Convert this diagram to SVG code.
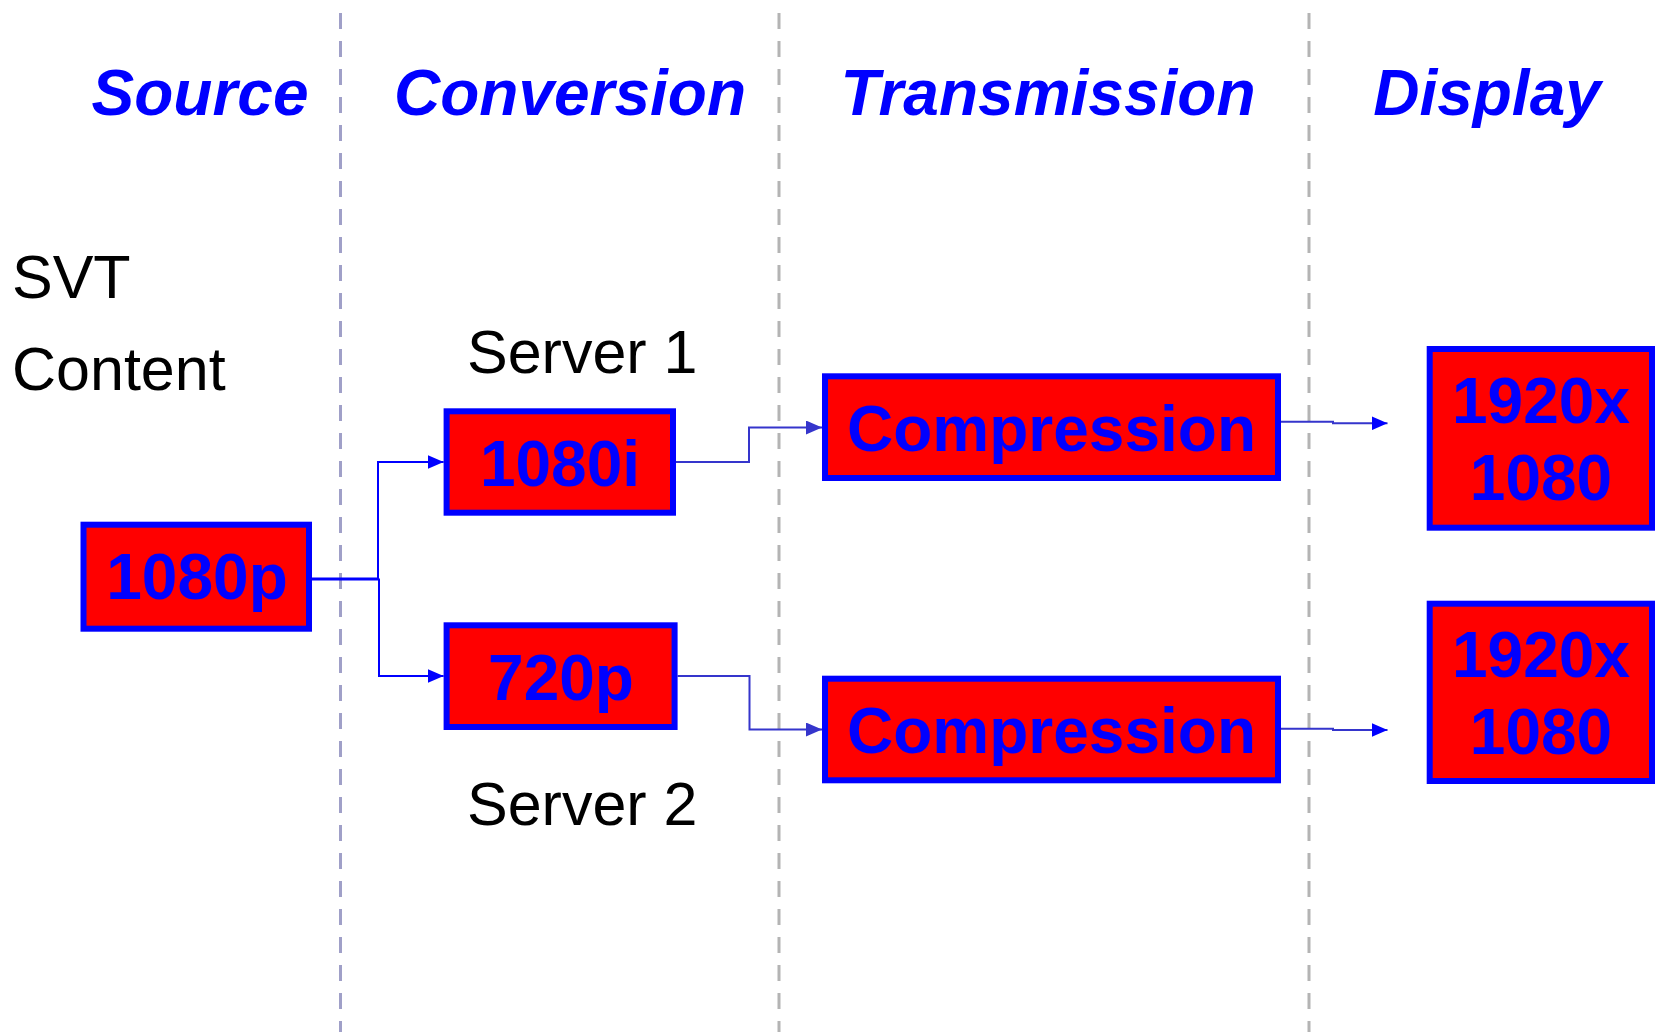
<svg xmlns="http://www.w3.org/2000/svg" width="1658" height="1032" viewBox="0 0 1658 1032">
  <style>
    .hdr { font-family: "Liberation Sans", Arial, sans-serif; font-weight: bold; font-style: italic; font-size: 64px; fill: #0000ff; text-anchor: middle; }
    .lbl { font-family: "Liberation Sans", Arial, sans-serif; font-size: 61px; fill: #000000; }
    .box { fill: #ff0000; stroke: #0000ff; stroke-width: 6; }
    .btxt { font-family: "Liberation Sans", Arial, sans-serif; font-weight: bold; font-size: 64px; fill: #0000ff; text-anchor: middle; }
    .sep { stroke-width: 3; stroke-dasharray: 16 12; fill: none; }
    .link { fill: none; stroke: #0000ff; stroke-width: 2; }
    .link2 { fill: none; stroke: #3535cc; stroke-width: 2; }
  </style>
  <defs>
    <marker id="arr" markerUnits="userSpaceOnUse" markerWidth="16" markerHeight="14" refX="16" refY="7" orient="auto">
      <path d="M0,0 L16,7 L0,14 z" fill="#0000ff"/>
    </marker>
    <marker id="arr2" markerUnits="userSpaceOnUse" markerWidth="16" markerHeight="14" refX="16" refY="7" orient="auto">
      <path d="M0,0 L16,7 L0,14 z" fill="#3535cc"/>
    </marker>
  </defs>
  <rect width="1658" height="1032" fill="#ffffff"/>

  <!-- column separators -->
  <g id="separators">
    <line class="sep" x1="340.5" y1="13" x2="340.5" y2="1032" stroke="#a0a0c8"/>
    <line class="sep" x1="779" y1="13" x2="779" y2="1032" stroke="#b4b4b4"/>
    <line class="sep" x1="1309" y1="13" x2="1309" y2="1032" stroke="#b4b4b4"/>
  </g>

  <!-- column headings -->
  <g id="headings">
    <text class="hdr" x="200" y="115">Source</text>
    <text class="hdr" x="570" y="115">Conversion</text>
    <text class="hdr" x="1048" y="115">Transmission</text>
    <text class="hdr" x="1487" y="115">Display</text>
  </g>

  <!-- plain labels -->
  <g id="labels">
    <text class="lbl" x="12" y="298">SVT</text>
    <text class="lbl" x="12" y="390">Content</text>
    <text class="lbl" x="467" y="373">Server 1</text>
    <text class="lbl" x="467" y="825">Server 2</text>
  </g>

  <!-- connectors -->
  <g id="connectors">
    <path class="link" d="M312,578.5 H378 V462 H443.6" marker-end="url(#arr)"/>
    <path class="link" d="M312,579.5 H379 V676 H443.6" marker-end="url(#arr)"/>
    <path class="link2" d="M676,462 H749 V427.5 H822" marker-end="url(#arr2)"/>
    <path class="link2" d="M677.6,676 H749.5 V729.5 H822" marker-end="url(#arr2)"/>
    <path class="link2" d="M1281,421.7 H1333 V423.3 H1387.5" marker-end="url(#arr)"/>
    <path class="link2" d="M1281,728.7 H1333 V730 H1387.5" marker-end="url(#arr)"/>
  </g>

  <!-- nodes -->
  <g id="n-1080p">
    <rect class="box" x="83.5" y="524.7" width="225.5" height="104"/>
    <text class="btxt" x="197" y="599">1080p</text>
  </g>
  <g id="n-1080i">
    <rect class="box" x="446.6" y="411.3" width="226.4" height="101.4"/>
    <text class="btxt" x="560" y="486">1080i</text>
  </g>
  <g id="n-720p">
    <rect class="box" x="446.6" y="625.3" width="228" height="101.7"/>
    <text class="btxt" x="561" y="700">720p</text>
  </g>
  <g id="n-comp1">
    <rect class="box" x="825" y="376.3" width="453" height="101.7"/>
    <text class="btxt" x="1051.5" y="450.7">Compression</text>
  </g>
  <g id="n-comp2">
    <rect class="box" x="825" y="678.7" width="453" height="101.6"/>
    <text class="btxt" x="1051.5" y="753.3">Compression</text>
  </g>
  <g id="n-disp1">
    <rect class="box" x="1429.7" y="349" width="222.3" height="178.7"/>
    <text class="btxt" x="1541" y="423.3">1920x</text>
    <text class="btxt" x="1541" y="500">1080</text>
  </g>
  <g id="n-disp2">
    <rect class="box" x="1429.7" y="603.7" width="222.3" height="177.3"/>
    <text class="btxt" x="1541" y="677.3">1920x</text>
    <text class="btxt" x="1541" y="754.3">1080</text>
  </g>
</svg>
